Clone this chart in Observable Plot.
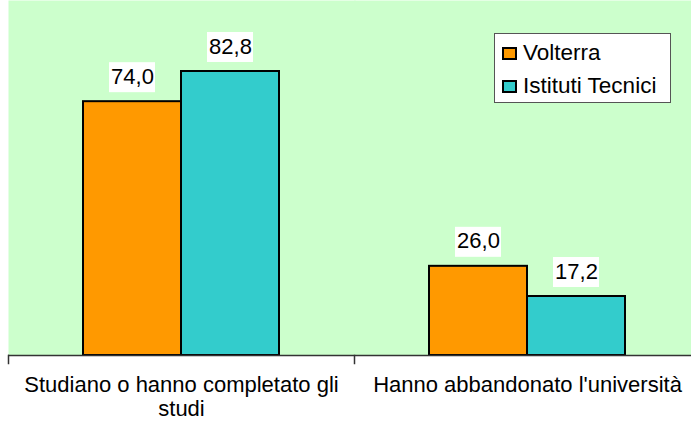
<!DOCTYPE html>
<html><head><meta charset="utf-8">
<script src="https://cdn.jsdelivr.net/npm/d3@7"></script>
<script src="https://cdn.jsdelivr.net/npm/@observablehq/plot@0.6"></script>
<style>
html,body{margin:0;padding:0;background:#fff;}
#wrap{position:relative;width:691px;height:426px;overflow:hidden;font-family:"Liberation Sans",Arial,sans-serif;}
#wrap svg{max-width:none !important;height:426px !important;}
#legend{position:absolute;left:494px;top:33px;width:175px;height:68px;background:#fff;border:1px solid #555;}
.item{position:absolute;left:7px;height:22px;display:flex;align-items:center;font-size:22.5px;color:#000;white-space:nowrap;}
.sw{width:11px;height:9px;border:2px solid #000;margin-right:6px;}
</style></head><body><div id="wrap"></div>
<script>
const categories = ["Studiano o hanno completato gli studi", "Hanno abbandonato l'università"];
const categoryLabels = ["Studiano o hanno completato gli\nstudi", "Hanno abbandonato l'università"];
const series = ["Volterra", "Istituti Tecnici"];
const volterra = [74.0, 26.0];
const istituti = [82.8, 17.2];
const colors = ["#FF9900", "#33CCCC"];

const data = categories.flatMap((c, i) => [
  {category: c, series: series[0], value: volterra[i]},
  {category: c, series: series[1], value: istituti[i]}
]);
const fmt = d3.formatLocale({decimal: ",", thousands: ".", grouping: [3], currency: ["€", ""]}).format(".1f");
const font = "'Liberation Sans', Arial, sans-serif";

const chart = Plot.plot({
  width: 700, height: 426,
  marginLeft: 8, marginRight: 0, marginTop: 0, marginBottom: 71,
  style: {fontFamily: font, background: "transparent", color: "#000"},
  fx: {domain: categories, padding: 0, axis: null},
  x: {domain: series, paddingInner: 0, paddingOuter: 0.756, axis: null},
  y: {domain: [0, 103.5], axis: null},
  color: {domain: series, range: colors},
  marks: [
    Plot.frame({fill: "#CCFFCC", stroke: "none", insetRight: -1}),
    Plot.barY(data, {fx: "category", x: "series", y: "value", fill: "series", stroke: "#000", strokeWidth: 2}),
    Plot.ruleY([0], {stroke: "#333", strokeWidth: 1.5}),
    Plot.frame({anchor: "left", stroke: "#333", strokeWidth: 1.5, insetTop: 355, insetBottom: -8}),
    Plot.barY(data, {fx: "category", x: "series", y1: "value", y2: "value", fill: "#fff",
      insetTop: -39, insetBottom: 9, insetLeft: 26, insetRight: 26}),
    Plot.text(data, {fx: "category", x: "series", y: "value", text: d => fmt(d.value),
      dy: -25, fontSize: 22, fill: "#000"}),
    Plot.axisFx({anchor: "bottom", tickSize: 0, tickPadding: 19, fontSize: 22,
      tickFormat: d => categoryLabels[categories.indexOf(d)],
      lineHeight: 1.1, label: null, fill: "#000"})
  ]
});
const wrap = document.getElementById("wrap");
wrap.appendChild(chart);

const legend = document.createElement("div");
legend.id = "legend";
series.forEach((s, i) => {
  const item = document.createElement("div");
  item.className = "item";
  item.style.top = (8 + i * 33) + "px";
  const sw = document.createElement("div");
  sw.className = "sw";
  sw.style.background = colors[i];
  const tx = document.createElement("span");
  tx.textContent = s;
  item.appendChild(sw);
  item.appendChild(tx);
  legend.appendChild(item);
});
wrap.appendChild(legend);
</script></body></html>
